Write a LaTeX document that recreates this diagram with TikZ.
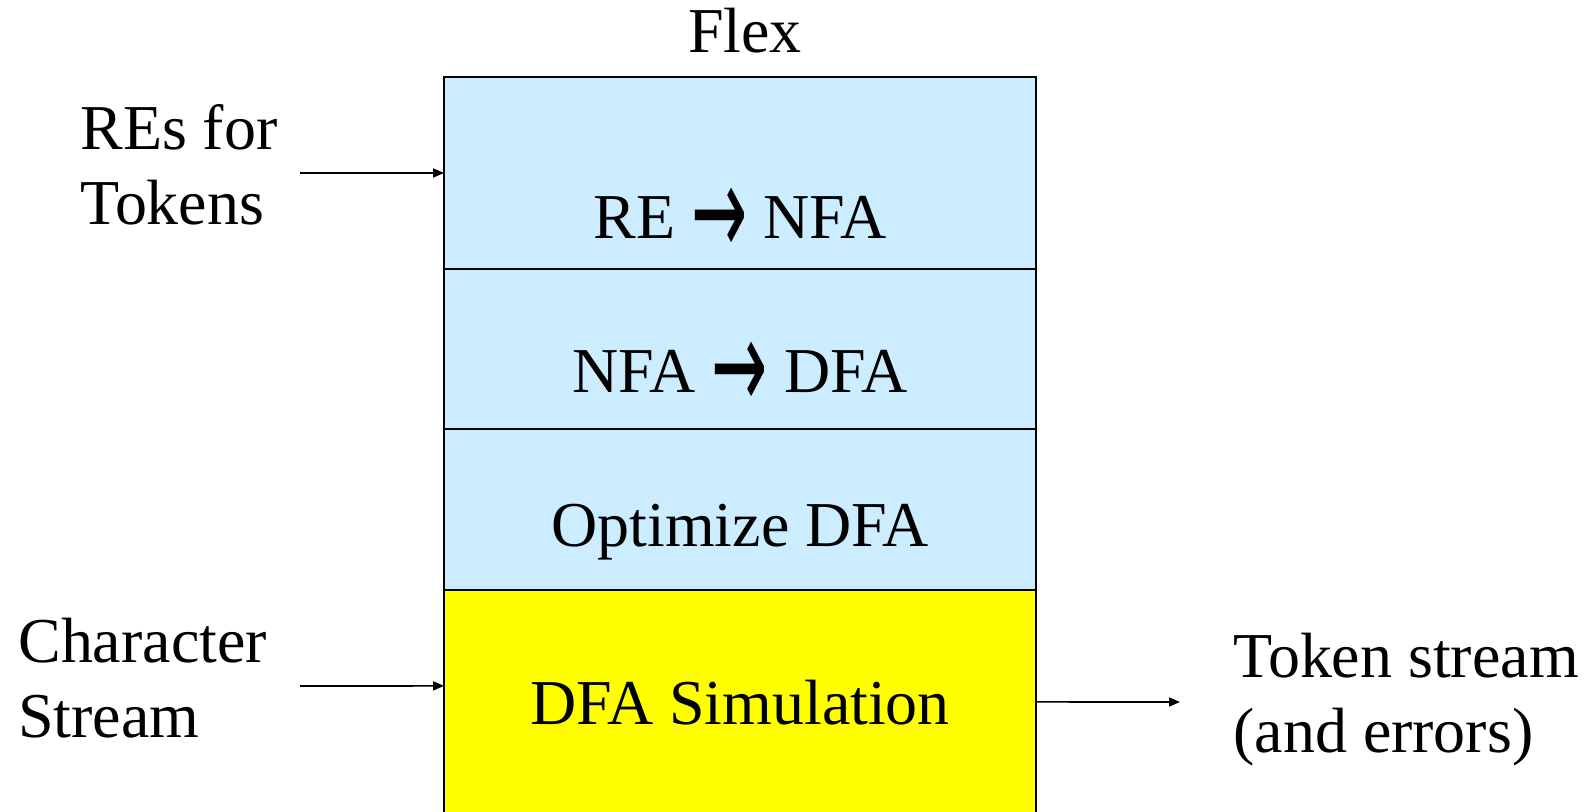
\documentclass[tikz,border=0pt]{standalone}
\usepackage{fontspec}
\setmainfont{Liberation Serif}
\newfontfamily\arrowfont{DejaVu Sans}
\usetikzlibrary{arrows.meta,positioning}
\definecolor{stageblue}{HTML}{CCECFF}
\definecolor{simyellow}{HTML}{FFFF00}
\newcommand{\goesto}{{\arrowfont\raisebox{-0.34cm}{\scalebox{1.05}[2.0]{→}}}}
\tikzset{
  stage/.style={draw, line width=1.1pt, fill=stageblue, minimum width=11.84cm,
                inner sep=0pt, outer sep=0pt, font=\fontsize{36.4pt}{42.5pt}\selectfont},
  lbl/.style={align=left, inner sep=0pt, font=\fontsize{36.4pt}{42.5pt}\selectfont},
  flow/.style={-{Triangle[length=0.22cm, width=0.18cm]}, line width=0.95pt}
}
\begin{document}
\begin{tikzpicture}[x=0.02cm, y=-0.02cm]
\useasboundingbox (0,0) rectangle (1594,811);
% the stack of flex stages
\node[stage, anchor=north, text height=3.24cm, text depth=0.60cm] (re) at (740,77) {RE \goesto\ NFA};
\node[stage, below=0pt of re, text height=2.48cm, text depth=0.72cm] (nfa) {NFA \goesto\ DFA};
\node[stage, below=0pt of nfa, text height=2.36cm, text depth=0.86cm] (opt) {Optimize DFA};
\node[stage, below=0pt of opt, fill=simyellow, text height=2.7cm, text depth=1.78cm] (sim) {DFA Simulation};
% labels round it
\node[lbl, anchor=base] (flex) at (745,53) {Flex};
\node[lbl, anchor=base west] (res) at (80,224) {REs for\\Tokens};
\node[lbl, anchor=base west] (chars) at (18,737) {Character\\Stream};
\node[lbl, anchor=base west] (toks) at (1233,752) {Token stream\\(and errors)};
\coordinate (resin) at (300,173);
\coordinate (charsin) at (300,686);
\coordinate (toksout) at (1180,702);
\draw[flow] (resin) -- (re.west);
\draw[flow] (charsin) -- ([yshift=0.32cm]sim.west);
\draw[flow] (sim.east) -- (toksout);
\end{tikzpicture}
\end{document}
